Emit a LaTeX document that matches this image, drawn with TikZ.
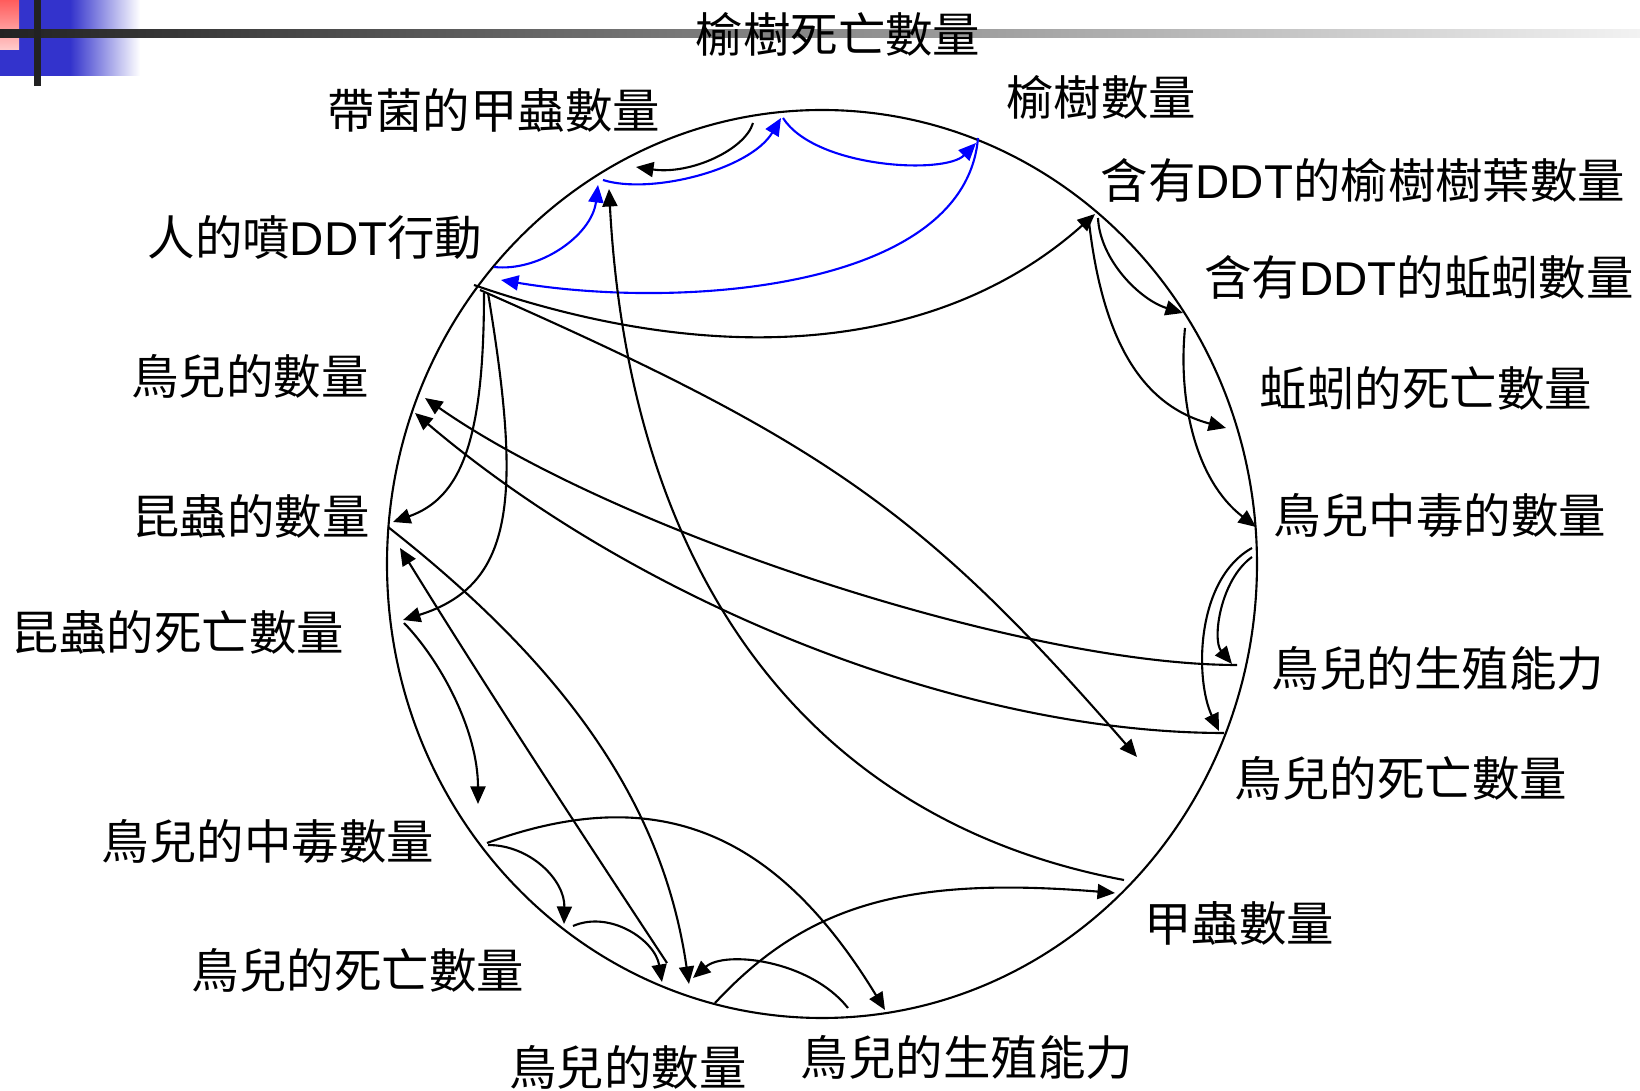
\documentclass[tikz,border=0pt]{standalone}
\usepackage{fontspec}
\setmainfont{Noto Sans CJK TC}
\newfontfamily\latinfont{Liberation Sans}
\usetikzlibrary{arrows.meta}
\definecolor{cblue}{HTML}{0000FF}
\definecolor{cindigo}{HTML}{3333CC}
\definecolor{cred}{HTML}{FF5C5C}
\definecolor{cpink}{HTML}{FFCCCC}
\definecolor{cdark}{HTML}{222222}
\definecolor{cfade}{HTML}{F2F2F2}
\tikzset{
  every picture/.style={line width=0.6pt},
  link/.style={-{Triangle[length=1.75mm, width=1.5mm]}, draw=#1},
  link/.default=black,
  factor/.style={font=\fontsize{13.5}{16}\selectfont, inner sep=0pt},
}

\begin{document}
\begin{tikzpicture}[x=0.1mm, y=-0.1mm]
  \useasboundingbox (0,0) rectangle (1640,1091);
  % slide corner
  \fill[cindigo] (0,0) rectangle (70,76);
  \shade[left color=cindigo, right color=white] (70,0) rectangle (140,76);
  \shade[top color=cred, bottom color=cpink] (0,0) rectangle (19,50);
  \shade[left color=cdark, right color=cfade] (0,30) rectangle (1640,38);
  \fill[cdark] (34,0) rectangle (41,86);
  % the loop
  \draw (822,564) ellipse [x radius=435, y radius=454];
  % factors round the loop
  \node[factor] (elmdeath) at (838,34) {榆樹死亡數量};
  \node[factor] (germbeetle) at (494,110) {帶菌的甲蟲數量};
  \node[factor] (elms) at (1101,97) {榆樹數量};
  \node[factor] (leaves) at (1363,181) {含有{\latinfont DDT}的榆樹樹葉數量};
  \node[factor] (spray) at (315,238) {人的噴{\latinfont DDT}行動};
  \node[factor] (worms) at (1419,278) {含有{\latinfont DDT}的蚯蚓數量};
  \node[factor] (wormdeath) at (1426,388) {蚯蚓的死亡數量};
  \node[factor] (birdsL) at (250,376) {鳥兒的數量};
  \node[factor] (insects) at (251,516) {昆蟲的數量};
  \node[factor] (poisonedR) at (1440,516) {鳥兒中毒的數量};
  \node[factor] (insectdeath) at (178,632) {昆蟲的死亡數量};
  \node[factor] (breedR) at (1438,668) {鳥兒的生殖能力};
  \node[factor] (birddeathR) at (1401,778) {鳥兒的死亡數量};
  \node[factor] (poisonedL) at (268,842) {鳥兒的中毒數量};
  \node[factor] (beetles) at (1239,923) {甲蟲數量};
  \node[factor] (birddeathL) at (358,970) {鳥兒的死亡數量};
  \node[factor] (birdsB) at (628,1067) {鳥兒的數量};
  \node[factor] (breedB) at (967,1057) {鳥兒的生殖能力};
  % ends of the links
  \coordinate (sprayA) at (494,267);  \coordinate (germA) at (598,185);
  \coordinate (germB) at (603,180);   \coordinate (elmdieA) at (781,118);
  \coordinate (elmdieB) at (783,118); \coordinate (elmA) at (976,143);
  \coordinate (elmB) at (978,138);    \coordinate (sprayB) at (501,280);
  \coordinate (elmdieC) at (753,123); \coordinate (germC) at (636,167);
  \coordinate (beetleA) at (1124,880); \coordinate (germD) at (609,189);
  \coordinate (sprayC) at (474,285);  \coordinate (leafA) at (1095,214);
  \coordinate (sprayD) at (480,290);  \coordinate (deathRA) at (1137,757);
  \coordinate (sprayE) at (484,293);  \coordinate (insectA) at (393,522);
  \coordinate (sprayF) at (488,293);  \coordinate (insectdieA) at (403,620);
  \coordinate (breedRA) at (1237,665); \coordinate (birdLA) at (425,398);
  \coordinate (deathRB) at (1224,733); \coordinate (birdLB) at (415,413);
  \coordinate (poisonRA) at (1252,548); \coordinate (deathRC) at (1219,731);
  \coordinate (poisonRB) at (1252,557); \coordinate (breedRB) at (1232,664);
  \coordinate (leafB) at (1098,218);  \coordinate (wormA) at (1183,313);
  \coordinate (leafC) at (1089,222);  \coordinate (wormdieA) at (1226,428);
  \coordinate (wormB) at (1185,328);  \coordinate (poisonRC) at (1256,527);
  \coordinate (insectB) at (388,527); \coordinate (birdBA) at (689,984);
  \coordinate (birdBB) at (715,1003); \coordinate (beetleB) at (1115,893);
  \coordinate (breedBA) at (848,1008); \coordinate (birdBC) at (693,978);
  \coordinate (poisonLA) at (487,843); \coordinate (breedBB) at (885,1010);
  \coordinate (insectdieB) at (404,623); \coordinate (poisonLB) at (478,804);
  \coordinate (poisonLC) at (488,845); \coordinate (deathLA) at (564,924);
  \coordinate (deathLB) at (573,926); \coordinate (birdBD) at (662,982);
  \coordinate (birdBE) at (667,963);  \coordinate (insectC) at (400,548);
  % blue: spraying and the elms
  \draw[link=cblue] (sprayA) .. controls (540,272) and (592,235) .. (germA);
  \draw[link=cblue] (germB) .. controls (650,195) and (750,170) .. (elmdieA);
  \draw[link=cblue] (elmdieB) .. controls (815,168) and (945,175) .. (elmA);
  \draw[link=cblue] (elmB) .. controls (965,290) and (680,310) .. (sprayB);
  % black: top and right side
  \draw[link] (elmdieC) .. controls (745,150) and (690,175) .. (germC);
  \draw[link] (beetleA) .. controls (811,821) and (630,580) .. (germD);
  \draw[link] (sprayC) .. controls (728,373) and (945,348) .. (leafA);
  \draw[link] (sprayD) .. controls (825,442) and (924,512) .. (deathRA);
  \draw[link] (leafB) .. controls (1100,260) and (1140,300) .. (wormA);
  \draw[link] (leafC) .. controls (1103,344) and (1144,406) .. (wormdieA);
  \draw[link] (wormB) .. controls (1178,400) and (1195,480) .. (poisonRC);
  \draw[link] (poisonRA) .. controls (1195,580) and (1195,680) .. (deathRC);
  \draw[link] (poisonRB) .. controls (1220,580) and (1212,640) .. (breedRB);
  \draw[link] (breedRA) .. controls (1021,665) and (615,531) .. (birdLA);
  \draw[link] (deathRB) .. controls (964,733) and (641,605) .. (birdLB);
  % black: left side and bottom
  \draw[link] (sprayE) .. controls (484,441) and (461,498) .. (insectA);
  \draw[link] (sprayF) .. controls (522,498) and (515,585) .. (insectdieA);
  \draw[link] (insectdieB) .. controls (440,660) and (478,730) .. (poisonLB);
  \draw[link] (insectB) .. controls (574,673) and (664,811) .. (birdBA);
  \draw[link] (birdBE) .. controls (574,822) and (484,684) .. (insectC);
  \draw[link] (poisonLA) .. controls (657,781) and (776,831) .. (breedBB);
  \draw[link] (poisonLC) .. controls (530,845) and (565,880) .. (deathLA);
  \draw[link] (deathLB) .. controls (610,910) and (655,940) .. (birdBD);
  \draw[link] (breedBA) .. controls (810,960) and (725,950) .. (birdBC);
  \draw[link] (birdBB) .. controls (807,904) and (907,876) .. (beetleB);
\end{tikzpicture}
\end{document}
